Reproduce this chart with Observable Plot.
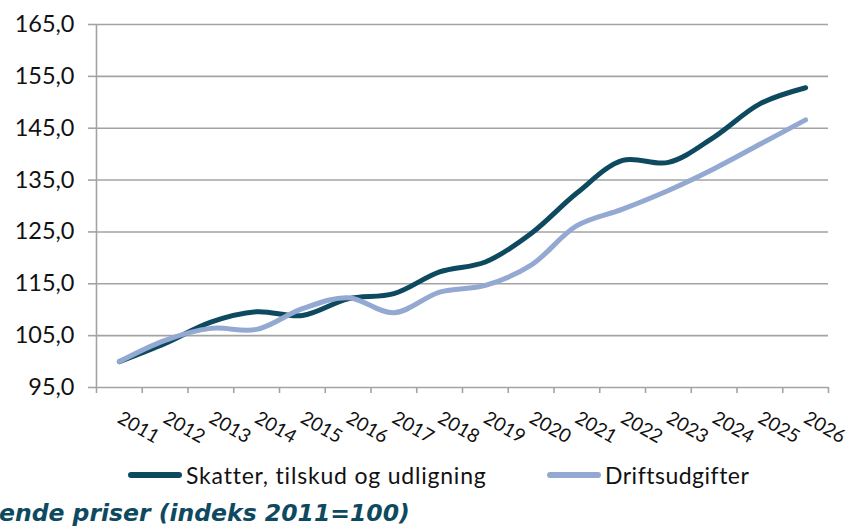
<!DOCTYPE html>
<html>
<head>
<meta charset="utf-8">
<script src="https://cdn.jsdelivr.net/npm/d3@7"></script>
<script src="https://cdn.jsdelivr.net/npm/@observablehq/plot@0.6"></script>
<style>
  html, body { margin: 0; padding: 0; background: #fff; overflow: hidden; }
  body { width: 850px; height: 530px; position: relative; font-family: Lato, "Open Sans", sans-serif; }
  #chart { position: absolute; left: 0; top: 0; }
  .legend { position: absolute; top: 461px; left: 0; width: 850px; height: 28px; font-size: 23px; color: #111; }
  .item { position: absolute; top: 0; display: flex; align-items: center; height: 28px; }
  .sw { width: 54px; height: 6px; border-radius: 3px; margin-right: 4px; }
  .note { position: absolute; left: -1px; top: 499px; font-family: "DejaVu Sans", Verdana, sans-serif; font-weight: bold; font-style: italic; font-size: 23.5px; color: #0E4A5F; white-space: nowrap; }
</style>
</head>
<body>
<div id="chart"></div>
<div class="legend">
  <div class="item" id="l1" style="left:128px; letter-spacing: 0.8px"></div>
  <div class="item" id="l2" style="left:547px; letter-spacing: 0.5px"></div>
</div>
<div class="note" id="note"></div>
<script>
const years = [2011, 2012, 2013, 2014, 2015, 2016, 2017, 2018, 2019, 2020, 2021, 2022, 2023, 2024, 2025, 2026];
const skatter = [100, 103.5, 107.6, 109.6, 108.9, 112.1, 113.1, 117.3, 119.2, 124.7, 132.5, 138.8, 138.4, 143.3, 149.7, 152.8];
const drift = [100, 104.1, 106.4, 106.2, 110.2, 112.3, 109.4, 113.4, 114.7, 118.6, 126.2, 129.4, 133.0, 137.2, 141.9, 146.6];
const yTicks = [95, 105, 115, 125, 135, 145, 155, 165];
const seriesNames = ["Skatter, tilskud og udligning", "Driftsudgifter"];
const seriesColors = ["#0E4A5F", "#93A9D1"];
const noteText = "ende priser (indeks 2011=100)";

const data = [];
years.forEach((yr, i) => {
  data.push({year: yr, value: skatter[i], series: seriesNames[0]});
});
years.forEach((yr, i) => {
  data.push({year: yr, value: drift[i], series: seriesNames[1]});
});
const bounds = years.map(y => y - 0.5).concat([years[years.length - 1] + 0.5]);
const fmt = d => d.toFixed(1).replace(".", ",");

const chart = Plot.plot({
  width: 850,
  height: 452,
  marginLeft: 96,
  marginRight: 22,
  marginTop: 24,
  marginBottom: 65,
  style: {fontFamily: "Lato, 'Open Sans', sans-serif", background: "#fff", color: "#111", overflow: "visible"},
  x: {type: "linear", domain: [bounds[0], bounds[bounds.length - 1]]},
  y: {domain: [95, 165]},
  color: {domain: seriesNames, range: seriesColors},
  marks: [
    Plot.ruleY(yTicks, {x1: bounds[0] , x2: bounds[bounds.length - 1], stroke: "#A3A3A3", strokeWidth: 1.6}),
    Plot.ruleX([bounds[0]], {y1: 95, y2: 165, stroke: "#A3A3A3", strokeWidth: 1.6}),
    Plot.axisY({ticks: yTicks, tickFormat: fmt, tickSize: 8, tickPadding: 14, fontSize: 23.5, stroke: "#A3A3A3", strokeWidth: 1.6, fill: "#111", label: null}),
    Plot.axisX({ticks: bounds, tickSize: 6, tickFormat: () => "", stroke: "#A3A3A3", strokeWidth: 1.6, label: null}),
    Plot.axisX({ticks: years, tickSize: 0, tickFormat: d => String(d), tickRotate: 30, textAnchor: "start", tickPadding: 29, dx: 0, fontSize: 19, fill: "#111", label: null}),
    Plot.line(data, {x: "year", y: "value", stroke: "series", z: "series", curve: "catmull-rom", strokeWidth: 5, strokeLinecap: "round", strokeLinejoin: "round"})
  ]
});
document.getElementById("chart").appendChild(chart);

function legendItem(id, name, color) {
  const el = document.getElementById(id);
  const sw = document.createElement("div");
  sw.className = "sw";
  sw.style.background = color;
  const t = document.createElement("span");
  t.textContent = name;
  el.appendChild(sw);
  el.appendChild(t);
}
legendItem("l1", seriesNames[0], seriesColors[0]);
legendItem("l2", seriesNames[1], seriesColors[1]);
document.getElementById("note").textContent = noteText;
</script>
</body>
</html>
